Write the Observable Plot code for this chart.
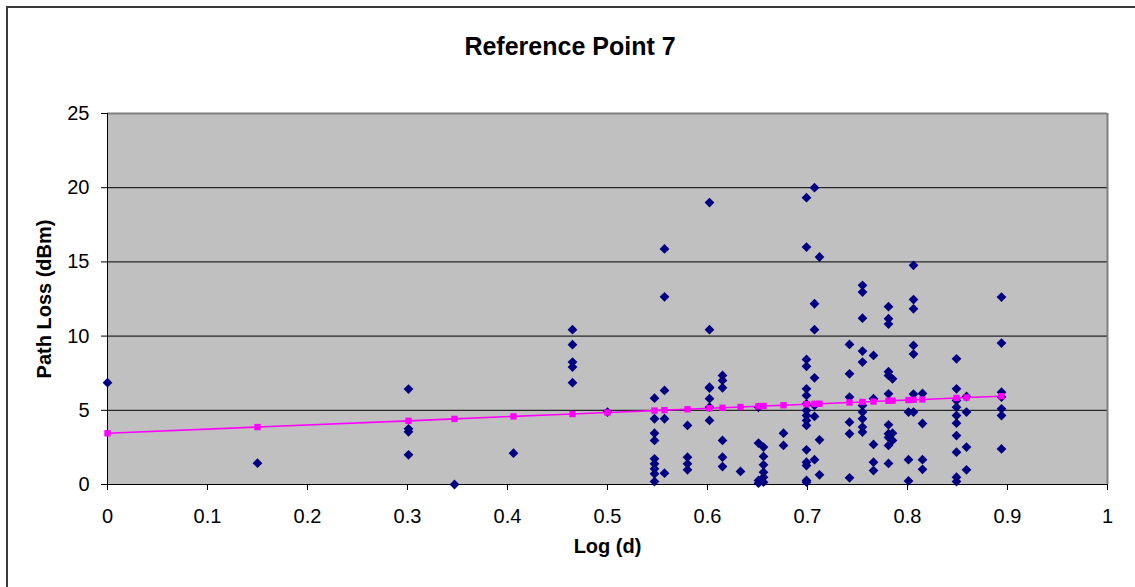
<!DOCTYPE html>
<html>
<head>
<meta charset="utf-8">
<script src="https://cdn.jsdelivr.net/npm/d3@7"></script>
<script src="https://cdn.jsdelivr.net/npm/@observablehq/plot@0.6"></script>
<style>
  html, body { margin: 0; padding: 0; background: #fff; }
  #wrap { position: relative; width: 1135px; height: 587px; overflow: hidden; font-family: "Liberation Sans", Arial, sans-serif; }
  #border { position: absolute; left: 6px; top: 6px; width: 1200px; height: 700px; border: 2px solid #3a3a3a; box-sizing: border-box; }
  #title { position: absolute; left: 0; width: 1140px; top: 32px; text-align: center; font-weight: bold; font-size: 25px; color: #000; }
  #chart { position: absolute; left: 0; top: 0; }
</style>
</head>
<body>
<div id="wrap">
  <div id="border"></div>
  <div id="title">Reference Point 7</div>
  <div id="chart"></div>
</div>
<script>
// Distinct log-distance values (x)
const logD = [0, 0.150, 0.301, 0.347, 0.406, 0.465, 0.500, 0.547, 0.557, 0.580,
  0.602, 0.615, 0.633, 0.651, 0.656, 0.676, 0.699, 0.707, 0.712, 0.742,
  0.755, 0.766, 0.781, 0.785, 0.801, 0.806, 0.815, 0.849, 0.859, 0.894];

// Measured path loss values at each logD
const pathLoss = [
  [6.86],
  [1.44],
  [6.43, 3.75, 3.55, 2.0],
  [0],
  [2.11],
  [10.43, 9.42, 8.25, 7.91, 6.86],
  [4.88],
  [5.82, 4.43, 3.46, 2.97, 1.73, 1.39, 1.06, 0.72, 0.2],
  [15.87, 12.65, 6.34, 4.43, 0.76],
  [3.98, 1.84, 1.39, 0.99],
  [19.0, 10.43, 6.56, 6.5, 5.78, 5.21, 4.32],
  [7.35, 7.01, 6.52, 2.97, 1.84, 1.21],
  [0.88],
  [5.2, 2.79, 0.27, 0.09],
  [2.52, 1.89, 1.33, 0.83, 0.49, 0.16],
  [3.46, 2.63],
  [19.33, 16.0, 8.43, 7.96, 6.45, 6.0, 5.44, 4.99, 4.65, 4.32, 3.98, 2.34, 1.5, 1.28, 0.27, 0.16],
  [20.0, 12.18, 10.43, 7.19, 5.33, 4.59, 1.67],
  [15.33, 3.01, 0.65],
  [9.44, 7.46, 5.89, 4.2, 3.42, 0.45],
  [13.42, 12.97, 11.21, 8.99, 8.25, 5.33, 4.88, 4.43, 3.87, 3.53],
  [8.7, 5.78, 2.7, 1.5, 0.94],
  [11.98, 11.17, 10.81, 7.6, 7.35, 6.11, 4.02, 3.42, 3.17, 2.63, 1.42],
  [7.12, 3.46, 2.97],
  [4.88, 1.67, 0.24],
  [14.77, 12.46, 11.84, 9.37, 8.79, 6.09, 4.88],
  [6.14, 4.11, 1.67, 1.02],
  [8.47, 6.45, 5.66, 5.21, 4.65, 4.13, 3.3, 2.18, 0.49, 0.2],
  [5.93, 4.88, 2.52, 0.99],
  [12.63, 9.53, 6.22, 5.89, 5.1, 4.65, 2.4]
];

// Model (fitted) path loss at each logD
const modelLoss = [3.45, 3.87, 4.29, 4.42, 4.59, 4.75, 4.85, 4.98, 5.01, 5.07,
  5.14, 5.17, 5.22, 5.27, 5.29, 5.34, 5.41, 5.43, 5.44, 5.53,
  5.56, 5.59, 5.64, 5.65, 5.69, 5.71, 5.73, 5.83, 5.86, 5.95];

const xTicks = [0, 0.1, 0.2, 0.3, 0.4, 0.5, 0.6, 0.7, 0.8, 0.9, 1];
const xTickLabels = ["0", "0.1", "0.2", "0.3", "0.4", "0.5", "0.6", "0.7", "0.8", "0.9", "1"];
const yTicks = [0, 5, 10, 15, 20, 25];
const yGrid = [5, 10, 15, 20];

const measured = logD.flatMap((x, i) => pathLoss[i].map(y => ({x, y})));
const model = logD.map((x, i) => ({x, y: modelLoss[i]}));

const chart = Plot.plot({
  width: 1135,
  height: 587,
  marginLeft: 107,
  marginRight: 28,
  marginTop: 113,
  marginBottom: 103,
  style: {fontFamily: "'Liberation Sans', Arial, sans-serif", background: "transparent", color: "#000"},
  x: {domain: [0, 1]},
  y: {domain: [0, 25]},
  marks: [
    Plot.frame({fill: "#C0C0C0", stroke: null}),
    Plot.ruleY(yGrid, {stroke: "#000", strokeWidth: 1}),
    Plot.ruleY([25], {stroke: "#808080", strokeWidth: 2}),
    Plot.ruleX([1], {stroke: "#808080", strokeWidth: 2}),
    Plot.ruleX([0], {stroke: "#000", strokeWidth: 1}),
    Plot.ruleY([0], {stroke: "#000", strokeWidth: 1.2}),
    Plot.axisX({ticks: xTicks, tickFormat: (d, i) => xTickLabels[i], tickSize: 6, tickPadding: 18, fontSize: 20, label: null, stroke: "#000"}),
    Plot.axisY({ticks: yTicks, tickSize: 6, tickPadding: 12, fontSize: 20, label: null, stroke: "#000"}),
    Plot.dot(measured, {x: "x", y: "y", symbol: "diamond2", fill: "#000080", stroke: "none", r: 4.4}),
    Plot.line(model, {x: "x", y: "y", stroke: "#FF00FF", strokeWidth: 1.6}),
    Plot.dot(model, {x: "x", y: "y", symbol: "square", fill: "#FF00FF", stroke: "none", r: 3.6}),
    Plot.text(["Log (d)"], {frameAnchor: "bottom", dy: 68, text: d => d, fontSize: 20, fontWeight: "bold", fill: "#000"}),
    Plot.text(["Path Loss (dBm)"], {frameAnchor: "left", textAnchor: "middle", dx: -63, rotate: -90, text: d => d, fontSize: 20, fontWeight: "bold", fill: "#000"})
  ]
});
document.getElementById("chart").appendChild(chart);
</script>
</body>
</html>
